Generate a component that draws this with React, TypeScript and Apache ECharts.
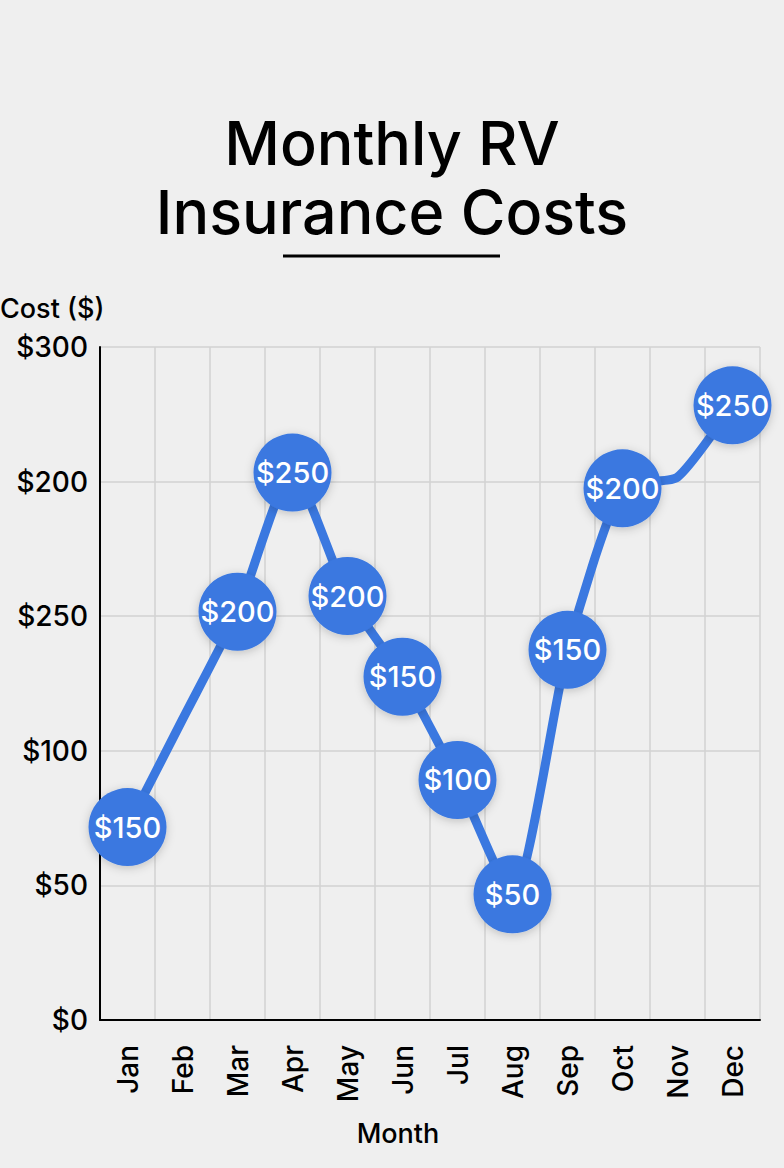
import React, { useEffect, useRef } from "react";
import * as echarts from "echarts";

const months = ["Jan", "Feb", "Mar", "Apr", "May", "Jun", "Jul", "Aug", "Sep", "Oct", "Nov", "Dec"];
// plotted heights (on the chart's linear 0–300 scale)
const plotted = [86, 134, 182, 244, 189, 153, 107, 56, 165, 237, 242, 274];
// labels printed on the markers ("" = no marker)
const markerLabels = ["$150", "", "$200", "$250", "$200", "$150", "$100", "$50", "$150", "$200", "", "$250"];
// y-axis tick labels as printed, bottom to top
const yTickLabels = ["$0", "$50", "$100", "$250", "$200", "$300"];

const FONT = "Inter";
const BLUE = "#3a78e0";

export default function App() {
  const ref = useRef<HTMLDivElement>(null);
  useEffect(() => {
    if (!ref.current) return;
    const chart = echarts.init(ref.current, undefined, { renderer: "svg" });
    chart.setOption({
      animation: false,
      backgroundColor: "#efefef",
      textStyle: { fontFamily: FONT },
      title: {
        text: "Monthly RV\nInsurance Costs",
        left: "center",
        top: 103,
        textStyle: {
          fontFamily: FONT,
          fontSize: 61,
          fontWeight: 500,
          color: "#000",
          lineHeight: 69,
        },
      },
      graphic: [
        {
          type: "line",
          shape: { x1: 283, y1: 256, x2: 500, y2: 256 },
          style: { stroke: "#000", lineWidth: 3 },
        },
        {
          type: "text",
          left: 0,
          top: 295,
          style: { text: "Cost ($)", fontFamily: FONT, fontSize: 27, fontWeight: 500, fill: "#000" },
        },
        {
          type: "text",
          x: 398,
          y: 1133,
          style: {
            text: "Month",
            fontFamily: FONT,
            fontSize: 27,
            fontWeight: 500,
            fill: "#000",
            align: "center",
            verticalAlign: "middle",
          },
        },
      ],
      grid: { left: 100, right: 24, top: 347, bottom: 148, containLabel: false },
      xAxis: {
        type: "category",
        data: months,
        boundaryGap: true,
        axisLine: { lineStyle: { color: "#000", width: 2 } },
        axisTick: { show: false },
        axisLabel: {
          rotate: 90,
          margin: 25,
          fontFamily: FONT,
          fontSize: 28,
          fontWeight: 500,
          color: "#000",
          interval: 0,
        },
        splitLine: { show: true, interval: 0, lineStyle: { color: "#d2d2d2", width: 1.5 } },
      },
      yAxis: {
        type: "value",
        min: 0,
        max: 300,
        interval: 60,
        axisLine: { show: true, lineStyle: { color: "#000", width: 2 } },
        axisTick: { show: false },
        axisLabel: {
          margin: 12,
          fontFamily: FONT,
          fontSize: 28,
          fontWeight: 500,
          color: "#000",
          formatter: (v: number) => yTickLabels[Math.round(v / 60)],
        },
        splitLine: { show: true, lineStyle: { color: "#d2d2d2", width: 1.5 } },
      },
      series: [
        {
          type: "line",
          data: plotted,
          smooth: 0.2,
          symbol: "circle",
          symbolSize: (_v: number, p: any) => (markerLabels[p.dataIndex] ? 78 : 0),
          lineStyle: { color: BLUE, width: 9 },
          itemStyle: {
            color: BLUE,
            shadowBlur: 10,
            shadowColor: "rgba(0,0,0,0.2)",
            shadowOffsetY: 2,
          },
          label: {
            show: true,
            position: "inside",
            formatter: (p: any) => markerLabels[p.dataIndex],
            fontFamily: FONT,
            fontSize: 29,
            fontWeight: 500,
            color: "#fff",
          },
          z: 3,
        },
      ],
    });
    return () => chart.dispose();
  }, []);
  return (
    <div
      ref={ref}
      style={{ position: "fixed", left: 0, top: 0, width: 784, height: 1168 }}
    />
  );
}
